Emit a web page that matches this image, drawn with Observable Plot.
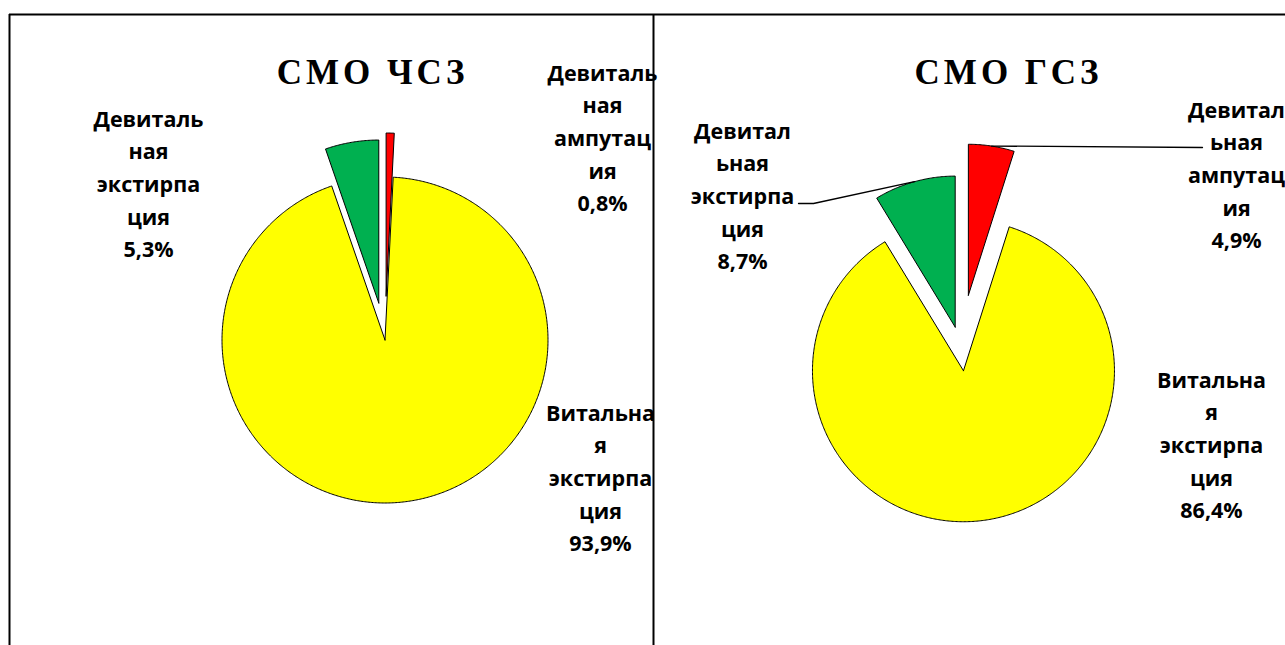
<!DOCTYPE html>
<html><head><meta charset="utf-8">
<script src="https://cdn.jsdelivr.net/npm/d3@7"></script>
<script src="https://cdn.jsdelivr.net/npm/@observablehq/plot@0.6"></script>
<style>
body{margin:0;background:#fff}
</style></head><body><div id="chart"></div>
<script>
// ---- data ----
const panelTitles = ["СМО ЧСЗ", "СМО ГСЗ"];
const categories = ["Девитальная ампутация", "Витальная экстирпация", "Девитальная экстирпация"];
const valuesChsz = [0.8, 93.9, 5.3];
const valuesGsz = [4.9, 86.4, 8.7];
const labelTextChsz = ["Девиталь\nная\nампутац\nия", "Витальна\nя\nэкстирпа\nция", "Девиталь\nная\nэкстирпа\nция"];
const labelTextGsz = ["Девитал\nьная\nампутац\nия", "Витальна\nя\nэкстирпа\nция", "Девитал\nьная\nэкстирпа\nция"];
const sliceColors = ["#FF0000", "#FFFF00", "#00B050"];

// ---- layout ----
const layout = [
  {values: valuesChsz, texts: labelTextChsz, cx: 384.5, cy: 339.5, r: 163, explode: [0.27, 0, 0.23],
   titleX: 372, labelPos: [[602, 135], [600, 475], [148, 181]], leaders: [null, null, null]},
  {values: valuesGsz, texts: labelTextGsz, cx: 960, cy: 345.5, r: 151, explode: [0.34, 0.165, 0.13],
   titleX: 1008, labelPos: [[1236, 172], [1211, 442], [742, 193]], leaders: [[[1202, 147]], null, [[813, 203], [798, 203]]]}
];

const fmt = v => d3.format(".1f")(v).replace(".", ",") + "%";
const polys = [], labels = [], leaderPts = [], titles = [];
layout.forEach((L, p) => {
  titles.push({x: L.titleX, y: 83, text: panelTitles[p]});
  const arcs = d3.pie().sort(null).value(d => d)(L.values);
  arcs.forEach((a, i) => {
    const mid = (a.startAngle + a.endAngle) / 2;
    const off = L.explode[i] * L.r;
    const ox = L.cx + off * Math.sin(mid), oy = L.cy - off * Math.cos(mid);
    const id = p + "-" + i;
    polys.push({id, x: ox, y: oy, color: sliceColors[i], cat: categories[i]});
    const n = Math.max(2, Math.ceil((a.endAngle - a.startAngle) / (Math.PI / 360)));
    for (let k = 0; k <= n; k++) {
      const t = a.startAngle + (a.endAngle - a.startAngle) * k / n;
      polys.push({id, x: ox + L.r * Math.sin(t), y: oy - L.r * Math.cos(t), color: sliceColors[i], cat: categories[i]});
    }
    polys.push({id, x: ox, y: oy, color: sliceColors[i], cat: categories[i]});
    labels.push({x: L.labelPos[i][0], y: L.labelPos[i][1], text: L.texts[i] + "\n" + fmt(L.values[i])});
    if (L.leaders[i]) {
      const sx = ox + L.r * Math.sin(mid), sy = oy - L.r * Math.cos(mid);
      leaderPts.push({id, x: sx, y: sy});
      L.leaders[i].forEach(([x, y]) => leaderPts.push({id, x, y}));
    }
  });
});

const chart = Plot.plot({
  width: 1285, height: 645,
  marginTop: 0, marginRight: 0, marginBottom: 0, marginLeft: 0,
  x: {domain: [0, 1285], range: [0, 1285], axis: null},
  y: {domain: [0, 645], range: [0, 645], axis: null},
  color: {type: "identity"},
  style: {background: "#fff"},
  marks: [
    Plot.line(polys, {x: "x", y: "y", z: "id", fill: "color", stroke: "#000", strokeWidth: 1, strokeLinejoin: "miter", curve: "linear"}),
    Plot.line(leaderPts, {x: "x", y: "y", z: "id", stroke: "#000", strokeWidth: 1.3}),
    Plot.text(labels, {x: "x", y: "y", text: "text", fontSize: 21.5, fontWeight: "bold", fontFamily: "Open Sans", lineHeight: 1.52, fill: "#000", lineAnchor: "middle"}),
    Plot.text(titles, {x: "x", y: "y", text: "text", fontSize: 35, fontWeight: "bold", fontFamily: "Liberation Serif", fill: "#000", lineAnchor: "bottom"}),
    Plot.ruleX([9, 653], {y1: 14, y2: 645, stroke: "#000", strokeWidth: 2}),
    Plot.ruleY([14], {x1: 9, x2: 1285, stroke: "#000", strokeWidth: 2})
  ]
});
d3.select(chart).selectAll("text").filter(function() { return panelTitles.includes(this.textContent); })
  .attr("letter-spacing", "4px");
document.getElementById("chart").appendChild(chart);
</script></body></html>
